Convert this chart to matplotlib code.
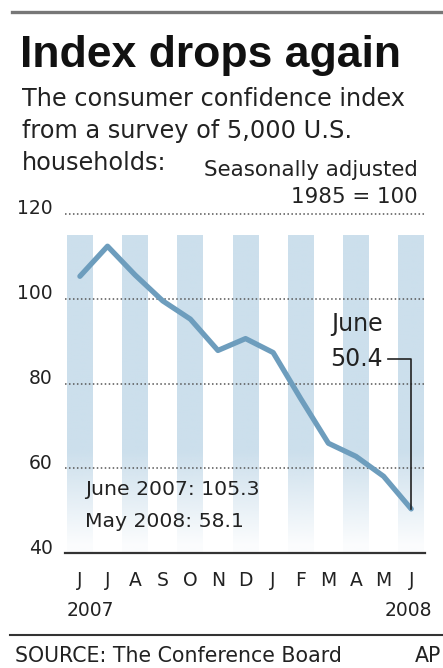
import numpy as np
import matplotlib
matplotlib.use("Agg")
import matplotlib.pyplot as plt
from matplotlib.lines import Line2D

# consumer confidence index, June 2007 .. June 2008
months = ["J", "J", "A", "S", "O", "N", "D", "J", "F", "M", "A", "M", "J"]
index_values = [105.3, 112.4, 105.6, 99.5, 95.2, 87.8, 90.6, 87.3, 76.4, 65.9, 62.8, 58.1, 50.4]
y_ticks = [40, 60, 80, 100, 120]
years = ["2007", "2008"]

W, H = 443, 668
fig = plt.figure(figsize=(W / 100, H / 100), dpi=100)
fig.patch.set_facecolor("white")

def fx(px):
    return px / W

def fy(py):
    return 1 - py / H

ink = "#222222"
line_blue = "#6d9dbd"

# axes: 40 at y=553px, 120 at y=214px; x from 65px to 425px
ax = fig.add_axes([fx(65), fy(553), fx(425) - fx(65), fy(214) - fy(553)])
ax.set_facecolor("none")

# vertical month bands with a fade toward the bottom
n = 200
v = np.linspace(115, 40, n)
alpha = np.clip((v - 40) / 24.0, 0.08, 1.0)
grad = np.zeros((n, 1, 4))
grad[:, 0, 0] = 204 / 255
grad[:, 0, 1] = 223 / 255
grad[:, 0, 2] = 236 / 255
grad[:, 0, 3] = alpha
for i in range(0, len(months), 2):
    ax.imshow(grad, extent=[i - 0.47, i + 0.47, 40, 115], aspect="auto",
              interpolation="bilinear", zorder=0)

# dotted grid
for t in y_ticks[1:]:
    ax.axhline(t, color="#555555", lw=1.1, ls=(0, (1, 1.6)), zorder=1, clip_on=False)

x = np.arange(len(index_values))
ax.plot(x, index_values, color=line_blue, lw=3.8, solid_joinstyle="round",
        solid_capstyle="round", zorder=3)

ax.set_xlim(-0.54, 12.5)
ax.set_ylim(40, 120)

for s in ["top", "right", "left"]:
    ax.spines[s].set_visible(False)
ax.spines["bottom"].set_color("#333333")
ax.spines["bottom"].set_linewidth(1.6)

ax.set_yticks([])
for t in y_ticks:
    ax.annotate(str(t), xy=(0, t), xycoords=("axes fraction", "data"),
                xytext=(-12, 5), textcoords="offset pixels",
                ha="right", va="center", fontsize=13.5, color=ink)

ax.set_xticks(x)
ax.set_xticklabels(months, fontsize=13.5, color=ink)
ax.tick_params(axis="x", length=0, pad=13)

# year labels under the month letters
fig.text(fx(67), fy(610), years[0], ha="left", va="center", fontsize=13.5, color=ink)
fig.text(fx(432), fy(610), years[1], ha="right", va="center", fontsize=13.5, color=ink)

# callout for the latest reading
last = len(index_values) - 1
ax.plot([11.15, last, last], [85.7, 85.7, index_values[-1]], color="#222222",
        lw=1.2, zorder=4)
ax.text(10.98, 94, "June", ha="right", va="center", fontsize=17, color=ink)
ax.text(10.98, 85.7, f"{index_values[-1]}", ha="right", va="center", fontsize=17, color=ink)

ax.text(0.2, 55.0, f"June 2007: {index_values[0]}", ha="left", va="center",
        fontsize=14.7, color=ink)
ax.text(0.2, 47.4, f"May 2008: {index_values[-2]}", ha="left", va="center",
        fontsize=14.7, color=ink)

# header
fig.add_artist(Line2D([fx(12), fx(443)], [fy(12), fy(12)], color="#777777", lw=2.4))
fig.text(fx(20), fy(67), "Index drops again", ha="left", va="baseline",
         fontsize=32, fontweight="bold", color="#111111",
         family="Liberation Sans")
sub = ["The consumer confidence index", "from a survey of 5,000 U.S.", "households:"]
for k, s in enumerate(sub):
    fig.text(fx(22), fy(106 + 32 * k), s, ha="left", va="baseline",
             fontsize=17.3, color=ink)
fig.text(fx(418), fy(176), "Seasonally adjusted", ha="right", va="baseline",
         fontsize=15.4, color=ink)
fig.text(fx(418), fy(203), "1985 = 100", ha="right", va="baseline",
         fontsize=15.4, color=ink)

# footer
fig.add_artist(Line2D([fx(10), fx(443)], [fy(635), fy(635)], color="#333333", lw=1.5))
fig.text(fx(15), fy(656), "SOURCE: The Conference Board", ha="left", va="center",
         fontsize=14.8, color=ink)
fig.text(fx(441), fy(656), "AP", ha="right", va="center", fontsize=14.8, color=ink)

fig.savefig("out.png", dpi=100)
